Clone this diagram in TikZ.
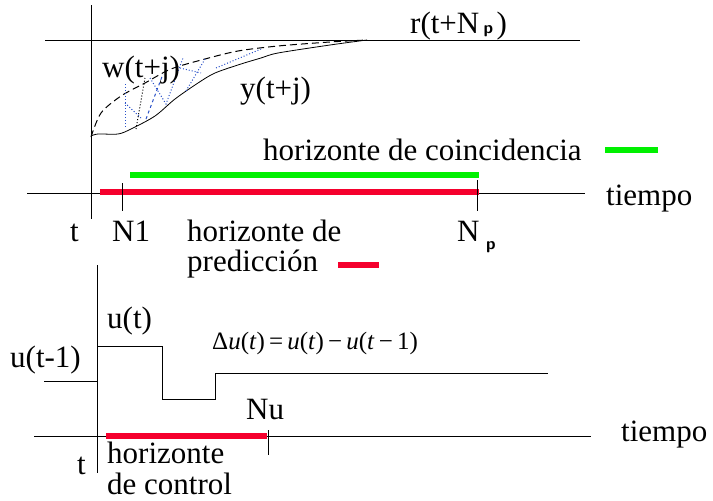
\documentclass[tikz,border=0pt]{standalone}
\usepackage{fontspec}
\setmainfont{LiberationSerif}[Extension=.ttf, UprightFont=*-Regular, ItalicFont=*-Italic, BoldFont=*-Bold]
\usetikzlibrary{positioning}
\definecolor{hgreen}{RGB}{0,240,0}
\definecolor{hred}{RGB}{245,0,45}
\definecolor{hblue}{RGB}{40,80,200}
\tikzset{
  axis/.style={line width=0.8pt},
  hbar/.style={line width=6.5pt},
  lbl/.style={font=\fontsize{31}{31}\selectfont, inner sep=0pt, anchor=base west},
  sub/.style={font=\sffamily\bfseries\fontsize{17}{17}\selectfont, inner sep=0pt, anchor=base west},
  wline/.style={line width=1pt, dash pattern=on 7pt off 4pt},
  bdot/.style={hblue, line width=1pt, dotted},
}
\begin{document}
\begin{tikzpicture}[x=1pt,y=-1pt]
  \useasboundingbox (0,0) rectangle (713,501);

  % Upper plot: axes and reference
  \coordinate (ya) at (91,5);   \coordinate (yb) at (91,219);
  \coordinate (ra) at (45,40);  \coordinate (rb) at (580,40);
  \coordinate (ta) at (27,193); \coordinate (tb) at (585,193);
  \draw[axis] (ya) -- (yb);
  \draw[axis] (ra) -- (rb);
  \draw[axis] (ta) -- (tb);
  \node[lbl] (rlab) at (410,33) {r(t+N};
  \node[sub] (rsub) at ([xshift=4pt]rlab.base east) {p};
  \node[lbl] (rpar) at ([xshift=3pt]rsub.base east) {)};

  % Reference trajectory w and output y
  \draw[wline] plot[smooth] coordinates {(91,137) (101,113) (121,96) (145,83) (171,69) (205,59) (238,51) (278,46) (330,42) (367,40)};
  \draw[line width=0.8pt] plot[smooth] coordinates {(91,136) (98,134) (118,134) (131,129) (155,116) (175,99) (198,83) (215,73) (241,64) (261,58) (278,53) (330,45) (367,40)};
  \draw[bdot] (125,84) -- (125,128);
  \draw[bdot] (125,103) -- (141,118);
  \draw[line width=1pt, dotted] (136,129) -- (145,78);
  \draw[hblue, line width=1pt, dashed] (146,119) -- (163,74);
  \draw[bdot] (150,78) -- (166,104) -- (183,58);
  \draw[bdot] (180,68) -- (201,73);
  \draw[bdot] (205,59) -- (186,91);
  \draw[bdot] (216,68) -- (261,49);
  \node[lbl] (wlab) at (102,77) {w(t+j)};
  \node[lbl] (ylab) at (240,98) {y(t+j)};

  % Horizons
  \coordinate (ga) at (130,175); \coordinate (gb) at (479,175);
  \coordinate (pa) at (100,192); \coordinate (pb) at (479,192);
  \draw[hbar, hgreen] (ga) -- (gb);
  \draw[hbar, hred] (pa) -- (pb);
  \coordinate (n1a) at (122,183); \coordinate (n1b) at (122,211);
  \coordinate (npa) at (477,180); \coordinate (npb) at (477,211);
  \draw[axis] (n1a) -- (n1b);
  \draw[axis] (npa) -- (npb);
  \node[lbl] (coinc) at (263,160) {horizonte de coincidencia};
  \coordinate (gla) at (605,150); \coordinate (glb) at (658,150);
  \draw[hbar, hgreen] (gla) -- (glb);
  \node[lbl] (tiempo1) at (606,205) {tiempo};
  \node[lbl] (t1) at (70,241) {t};
  \node[lbl] (n1) at (112,241) {N1};
  \node[lbl] (pred1) at (187,241) {horizonte de};
  \node[lbl] (pred2) at (187,271) {predicción};
  \coordinate (rla) at (338,265); \coordinate (rlb) at (379,265);
  \draw[hbar, hred] (rla) -- (rlb);
  \node[lbl] (np) at (457,241) {N};
  \node[sub] (npsub) at (486,249) {p};

  % Lower plot: control signal
  \coordinate (ua) at (97,265);  \coordinate (ub) at (97,473);
  \coordinate (sa) at (34,436);  \coordinate (sb) at (591,436);
  \draw[axis] (ua) -- (ub);
  \draw[axis] (sa) -- (sb);
  \coordinate (u0) at (44,381);
  \draw[axis] (u0) -- (97,381);
  \draw[axis] (97,346) -- (162,346) -- (162,399) -- (215,399) -- (215,373) -- (548,373);
  \coordinate (ca) at (106,436); \coordinate (cb) at (267,436);
  \draw[hbar, hred] (ca) -- (cb);
  \coordinate (nua) at (268,430); \coordinate (nub) at (268,455);
  \draw[axis] (nua) -- (nub);
  \node[lbl] (ulab) at (107,328) {u(t)};
  \node[lbl] (u1lab) at (10,367) {u(t-1)};
  \node[font=\fontsize{25}{25}\selectfont, inner sep=0pt, anchor=base west] (du) at (212,349)
    {Δ\textit{u}(\textit{t})\,=\,\textit{u}(\textit{t})\,−\,\textit{u}(\textit{t}\,−\,1)};
  \node[lbl] (nu) at (246,419) {Nu};
  \node[lbl] (tiempo2) at (621,441) {tiempo};
  \node[lbl] (t2) at (77,474) {t};
  \node[lbl] (ctrl1) at (107,463) {horizonte};
  \node[lbl] (ctrl2) at (107,494) {de control};
\end{tikzpicture}
\end{document}
